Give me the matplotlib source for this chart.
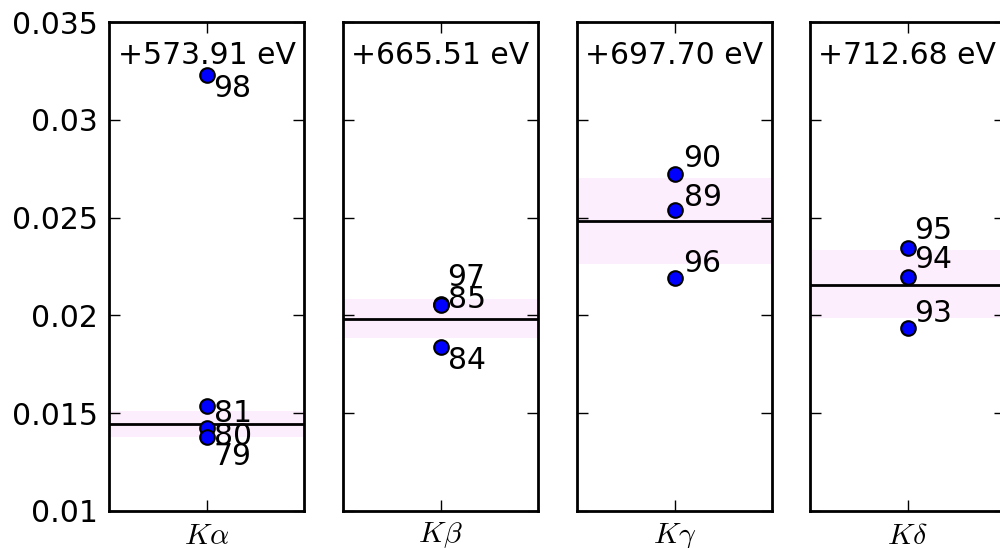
import matplotlib
matplotlib.use('Agg')
import matplotlib.pyplot as plt
from matplotlib.ticker import FuncFormatter, MultipleLocator

plt.rcParams['mathtext.fontset'] = 'cm'
plt.rcParams['font.family'] = ['DejaVu Sans']

# ---- data ----
line_names = [r'$K\alpha$', r'$K\beta$', r'$K\gamma$', r'$K\delta$']
energy_labels = ['+573.91 eV', '+665.51 eV', '+697.70 eV', '+712.68 eV']

ka_ids = [98, 81, 80, 79]
ka_vals = [0.03229, 0.01537, 0.01422, 0.01377]
kb_ids = [97, 85, 84]
kb_vals = [0.02058, 0.02053, 0.01837]
kg_ids = [90, 89, 96]
kg_vals = [0.02721, 0.02539, 0.02193]
kd_ids = [95, 94, 93]
kd_vals = [0.02346, 0.02198, 0.01934]

means = [0.01443, 0.01980, 0.02483, 0.02155]
band_low = [0.01378, 0.01883, 0.02261, 0.01985]
band_high = [0.01511, 0.02082, 0.02704, 0.02334]

ids_all = [ka_ids, kb_ids, kg_ids, kd_ids]
vals_all = [ka_vals, kb_vals, kg_vals, kd_vals]

# ---- styling (label offsets in pixels) ----
label_offsets = [
    [(7, -13), (7, -8), (7, -8), (7, -19)],
    [(7, 27), (7, 6), (7, -13)],
    [(9, 16), (9, 12), (9, 14)],
    [(7, 17), (7, 17), (7, 15)],
]

W, H = 1000, 548
fig = plt.figure(figsize=(W / 100, H / 100), dpi=100)
lefts = [109, 343, 577, 810]
ax_w = 195
bottom_px, top_px = 511, 22
FS = 21.5

for i in range(4):
    ax = fig.add_axes([lefts[i] / W, (H - bottom_px) / H, ax_w / W, (bottom_px - top_px) / H])
    ax.axhspan(band_low[i], band_high[i], color='#fdeefd', lw=0, zorder=0)
    ax.axhline(means[i], color='black', lw=2, zorder=1)
    xs = [0] * len(vals_all[i])
    ax.plot(xs, vals_all[i], 'o', mfc='blue', mec='black', ms=10.5, mew=1.5, zorder=3, ls='none')
    for j, (pid, v) in enumerate(zip(ids_all[i], vals_all[i])):
        dx, dy = label_offsets[i][j]
        ax.annotate(str(pid), (0, v), xytext=(dx, dy), textcoords='offset pixels',
                    ha='left', va='center', fontsize=FS, zorder=4)
    ax.text(0.5, 0.932, energy_labels[i], transform=ax.transAxes, ha='center', va='center',
            fontsize=FS)
    ax.set_xlim(-1, 1)
    ax.set_ylim(0.01, 0.035)
    ax.set_xticks([0])
    ax.set_xticklabels([line_names[i]], fontsize=FS)
    ax.yaxis.set_major_locator(MultipleLocator(0.005))
    ax.yaxis.set_major_formatter(FuncFormatter(lambda v, p: '{:g}'.format(round(v, 4))))
    ax.tick_params(direction='in', top=True, right=True, length=8, width=1, labelsize=FS)
    ax.tick_params(axis='y', pad=8)
    ax.tick_params(axis='x', pad=7)
    if i > 0:
        ax.tick_params(labelleft=False)
    for s in ax.spines.values():
        s.set_linewidth(2)

fig.savefig('out.png', dpi=100)
